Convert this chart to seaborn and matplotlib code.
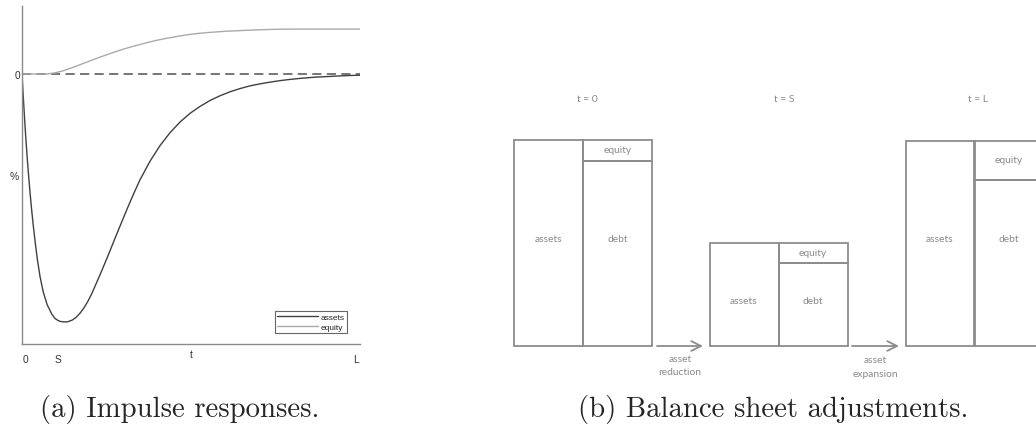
import matplotlib
matplotlib.use("Agg")
import matplotlib.pyplot as plt
import seaborn as sns
import pandas as pd

# impulse responses (t in % of horizon L, values scaled so min assets = -1)
t_assets = [0, 0.30, 0.59, 0.89, 1.18, 1.57, 1.95, 2.37, 2.84, 3.34, 3.91, 4.53, 5.33, 6.30,
            7.40, 8.79, 9.76, 10.74, 11.69, 12.72, 13.61, 14.79, 15.98, 17.16, 18.34, 19.53,
            20.71, 21.89, 23.08, 24.56, 26.04, 27.51, 28.99, 30.47, 31.95, 33.43, 34.91,
            37.87, 40.83, 43.79, 46.75, 49.70, 52.66, 55.62, 58.58, 61.54, 64.50, 67.46,
            70.41, 73.37, 76.33, 79.29, 82.25, 86.69, 91.12, 95.56, 100]
v_assets = [0, -0.073, -0.141, -0.208, -0.268, -0.343, -0.409, -0.477, -0.546, -0.612,
            -0.679, -0.746, -0.817, -0.880, -0.929, -0.968, -0.986, -0.995, -0.999, -1.0,
            -0.999, -0.993, -0.982, -0.965, -0.943, -0.916, -0.884, -0.847, -0.810, -0.762,
            -0.713, -0.663, -0.614, -0.565, -0.517, -0.471, -0.427, -0.352, -0.289, -0.237,
            -0.194, -0.159, -0.131, -0.107, -0.088, -0.072, -0.059, -0.048, -0.040, -0.033,
            -0.027, -0.022, -0.018, -0.013, -0.010, -0.007, -0.005]
t_equity = [0, 7.5, 10, 12.5, 15, 17.5, 20, 22.5, 25, 27.5, 30, 32.5, 35, 37.5, 40, 42.5, 45,
            47.5, 50, 52.5, 55, 60, 65, 70, 75, 82, 100]
v_equity = [0, 0, 0.005, 0.014, 0.026, 0.039, 0.052, 0.065, 0.077, 0.089, 0.100, 0.110, 0.119,
            0.128, 0.136, 0.143, 0.149, 0.155, 0.160, 0.164, 0.167, 0.172, 0.175, 0.178, 0.180,
            0.181, 0.181]
x_ticks = ["0", "S", "L"]

# balance sheets at t = 0, S, L
stages = ["t = 0", "t = S", "t = L"]
bs_assets = [206, 103, 205]
bs_equity = [21, 20, 39]
moves = ["asset\nreduction", "asset\nexpansion"]

sns.set_style("white")
plt.rcParams["font.family"] = ["Liberation Sans", "DejaVu Sans"]

fig = plt.figure(figsize=(10.36, 4.39), dpi=100)

# ---------------- (a) impulse responses
ax = fig.add_axes([22 / 1036, 1 - 345 / 439, 338 / 1036, 338 / 439])
df = pd.concat([
    pd.DataFrame({"t": t_assets, "v": v_assets, "series": "assets"}),
    pd.DataFrame({"t": t_equity, "v": v_equity, "series": "equity"}),
])
ax.axhline(0, color="#505050", lw=1.1, ls=(0, (6, 3.5)), zorder=1)
sns.lineplot(data=df, x="t", y="v", hue="series", ax=ax, sort=False,
             palette={"assets": "#404040", "equity": "#aaaaaa"}, lw=1.0, zorder=2)
ax.set_xlim(0, 100)
ax.set_ylim(-1.089, 0.274)
for s in ["top", "right"]:
    ax.spines[s].set_visible(False)
for s in ["left", "bottom"]:
    ax.spines[s].set_color("#8a8a8a")
    ax.spines[s].set_linewidth(1.0)
ax.set_xticks([0.9, 10.65, 98.8], x_ticks)
ax.set_yticks([0], ["0"])
ax.tick_params(axis="x", length=0, pad=7.5, labelsize=7.3, labelcolor="#333333")
ax.tick_params(axis="y", length=0, pad=1.5, labelsize=7.3, labelcolor="#333333")
ax.set_xlabel("t", fontsize=7.3, color="#333333")
ax.xaxis.set_label_coords(0.5, -0.016)
ax.set_ylabel("%", fontsize=7.5, color="#333333", rotation=0, ha="center", va="center")
ax.yaxis.set_label_coords(-0.024, 0.497)
h, l = ax.get_legend_handles_labels()
leg = ax.legend(h, l, loc="lower right", bbox_to_anchor=(0.9615, 0.0325), borderaxespad=0,
                fontsize=6.0, frameon=True, fancybox=False, handlelength=4.9, handletextpad=0.3,
                borderpad=0.3, labelspacing=0.2)
leg.get_frame().set_edgecolor("#404040")
leg.get_frame().set_linewidth(0.8)
for line in leg.get_lines():
    line.set_linewidth(1.0)

# ---------------- (b) balance sheet adjustments
bx = fig.add_axes([490 / 1036, 1 - 390 / 439, 546 / 1036, 330 / 439])
bx.set_xlim(490, 1036)
bx.set_ylim(-43, 287)
bx.axis("off")
gray = "#8c8c8c"
tgray = "#8a8a8a"
asset_x = [548.5, 744, 940]
liab_x = [617.5, 813, 1008.5]
w = 69
debt = [a - e for a, e in zip(bs_assets, bs_equity)]
bx.bar(asset_x, bs_assets, width=w, fill=False, edgecolor=gray, lw=1.3)
bx.bar(liab_x, debt, width=w, fill=False, edgecolor=gray, lw=1.3)
bx.bar(liab_x, bs_equity, bottom=debt, width=w, fill=False, edgecolor=gray, lw=1.3)

tkw = dict(ha="center", va="center", fontsize=7.4, color=tgray, family=["Lato", "DejaVu Sans"])
title_x = [587, 784, 978]
for x, s in zip(title_x, stages):
    bx.text(x, 248, s, **tkw)
label_y = [108, 45, 108]
for ax_, lx_, a, d, e, ly in zip(asset_x, liab_x, bs_assets, debt, bs_equity, label_y):
    bx.text(ax_, ly, "assets", **tkw)
    bx.text(lx_, ly, "debt", **tkw)
    bx.text(lx_, d + e / 2 + 1, "equity", **tkw)

arrow_x = [(657, 703), (852, 899)]
arrow_lbl_y = [(-13, -26), (-14, -28)]
for (x0, x1), m, (y1, y2) in zip(arrow_x, moves, arrow_lbl_y):
    bx.annotate("", xy=(x1, 0), xytext=(x0, 0),
                arrowprops=dict(arrowstyle="->,head_length=0.7,head_width=0.35", color=gray,
                                lw=1.3, shrinkA=0, shrinkB=0, mutation_scale=10))
    top, bottom = m.split("\n")
    bx.text((x0 + x1) / 2, y1, top, **tkw)
    bx.text((x0 + x1) / 2, y2, bottom, **tkw)

# captions
fig.text(40 / 1036, 1 - 409 / 439, "(a) Impulse responses.", family="cmr10", fontsize=20.7,
         ha="left", va="center")
fig.text(578 / 1036, 1 - 409 / 439, "(b) Balance sheet adjustments.", family="cmr10",
         fontsize=20.7, ha="left", va="center")

fig.savefig("out.png", dpi=100)
